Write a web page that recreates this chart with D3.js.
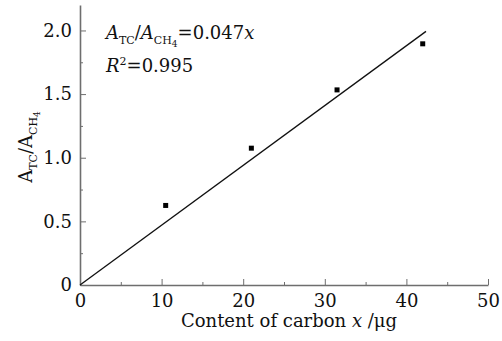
<!DOCTYPE html>
<html>
<head>
<meta charset="utf-8">
<script src="https://cdn.jsdelivr.net/npm/d3@7/dist/d3.min.js"></script>
<style>
  html, body { margin: 0; padding: 0; background: #fff; }
  svg text { font-family: "DejaVu Serif", serif; fill: #111; }
  .axis path, .axis line { stroke: #6e6e6e; }
</style>
</head>
<body>
<svg id="chart" width="502" height="341"></svg>
<script>
// measured points
const carbonX = [10.5, 21, 31.5, 42];
const ratioY = [0.625, 1.075, 1.533, 1.895];
// fitted line y = 0.047x
const slope = 0.047;
const fitRange = [0, 42.4];
const xTicks = [0, 10, 20, 30, 40, 50];
const xMinor = [5, 15, 25, 35, 45];
const yTicks = [0, 0.5, 1.0, 1.5, 2.0];
const yMinor = [0.25, 0.75, 1.25, 1.75];

const svg = d3.select('#chart');
const margin = { left: 80, top: 5, right: 14, bottom: 56 };
const width = 502, height = 341;

const x = d3.scaleLinear().domain([0, 50]).range([margin.left, 488]);
const y = d3.scaleLinear().domain([0, 2.2]).range([285, margin.top]);

// x axis
const xAxis = svg.append('g')
  .attr('class', 'axis')
  .attr('transform', `translate(0,${y(0)})`)
  .call(d3.axisBottom(x).tickValues(xTicks).tickFormat(d3.format('d'))
    .tickSizeInner(-6).tickSizeOuter(0).tickPadding(9));
xAxis.select('.domain').attr('stroke-width', 1.6);
xAxis.selectAll('text').attr('font-size', 18);

svg.append('g')
  .attr('class', 'axis')
  .attr('transform', `translate(0,${y(0)})`)
  .call(d3.axisBottom(x).tickValues(xMinor).tickFormat('').tickSizeInner(-3).tickSizeOuter(0))
  .select('.domain').remove();

// y axis
const yAxis = svg.append('g')
  .attr('class', 'axis')
  .attr('transform', `translate(${x(0)},0)`)
  .call(d3.axisLeft(y).tickValues(yTicks).tickFormat((d) => (d === 0 ? '0' : d3.format('.1f')(d)))
    .tickSizeInner(-6).tickSizeOuter(0).tickPadding(8));
yAxis.select('.domain').attr('stroke-width', 1.6);
yAxis.selectAll('text').attr('font-size', 18);

svg.append('g')
  .attr('class', 'axis')
  .attr('transform', `translate(${x(0)},0)`)
  .call(d3.axisLeft(y).tickValues(yMinor).tickFormat('').tickSizeInner(-3).tickSizeOuter(0))
  .select('.domain').remove();

// fit line
const line = d3.line().x((d) => x(d)).y((d) => y(slope * d));
svg.append('path')
  .datum(fitRange)
  .attr('d', line)
  .attr('fill', 'none')
  .attr('stroke', '#111')
  .attr('stroke-width', 1.3);

// points
svg.append('g')
  .selectAll('rect')
  .data(carbonX)
  .enter()
  .append('rect')
  .attr('x', (d) => x(d) - 2.5)
  .attr('y', (d, i) => y(ratioY[i]) - 2.5)
  .attr('width', 5)
  .attr('height', 5)
  .attr('fill', '#000');

// equation
const eq = svg.append('text').attr('x', 106).attr('y', 39).attr('font-size', 18);
eq.append('tspan').attr('font-style', 'italic').text('A');
eq.append('tspan').attr('font-size', 11).attr('dy', 5).text('TC');
eq.append('tspan').attr('dy', -5).text('/');
eq.append('tspan').attr('font-style', 'italic').text('A');
eq.append('tspan').attr('font-size', 11).attr('dy', 5).text('CH');
eq.append('tspan').attr('font-size', 9).attr('dy', 3).text('4');
eq.append('tspan').attr('dy', -8).text('=0.047');
eq.append('tspan').attr('font-style', 'italic').text('x');

const r2 = svg.append('text').attr('x', 106).attr('y', 72).attr('font-size', 18);
r2.append('tspan').attr('font-style', 'italic').text('R');
r2.append('tspan').attr('font-size', 11).attr('dy', -7).text('2');
r2.append('tspan').attr('dy', 7).text('=0.995');

// x label
const xl = svg.append('text').attr('x', 289).attr('y', 327).attr('text-anchor', 'middle').attr('font-size', 18);
xl.append('tspan').text('Content of carbon ');
xl.append('tspan').attr('font-style', 'italic').text('x');
xl.append('tspan').text(' /μg');

// y label
const yl = svg.append('text')
  .attr('transform', 'translate(32,147) rotate(-90)')
  .attr('text-anchor', 'middle')
  .attr('font-size', 18);
yl.append('tspan').text('A');
yl.append('tspan').attr('font-size', 11).attr('dy', 5).text('TC');
yl.append('tspan').attr('dy', -5).text('/A');
yl.append('tspan').attr('font-size', 11).attr('dy', 5).text('CH');
yl.append('tspan').attr('font-size', 9).attr('dy', 3).text('4');
</script>
</body>
</html>
